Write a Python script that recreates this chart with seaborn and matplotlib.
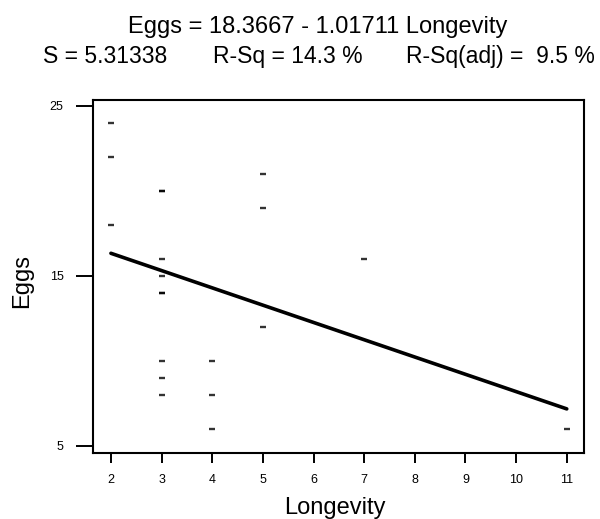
import matplotlib
matplotlib.use('Agg')
import matplotlib.pyplot as plt
import seaborn as sns
import pandas as pd

# Longevity / eggs data (two duplicates hidden under other marks)
longevity = [2, 2, 2, 3, 3, 3, 3, 3, 3, 3, 3, 3, 4, 4, 4, 5, 5, 5, 7, 11]
eggs = [24, 22, 18, 20, 20, 16, 15, 14, 14, 10, 9, 8, 10, 8, 6, 21, 19, 12, 16, 6]
x_ticks = [2, 3, 4, 5, 6, 7, 8, 9, 10, 11]
y_ticks = [5, 15, 25]

df = pd.DataFrame({'Longevity': longevity, 'Eggs': eggs})

sns.set_style('white')
plt.rcParams['font.family'] = ['Liberation Sans', 'DejaVu Sans']
plt.rcParams['text.color'] = 'black'
plt.rcParams['xtick.color'] = 'black'
plt.rcParams['ytick.color'] = 'black'

W, H = 600, 519
fig = plt.figure(figsize=(6, 5.19), dpi=100)
ax = fig.add_axes([0.1545, 0.1277, 0.8188, 0.6796])

sns.regplot(data=df, x='Longevity', y='Eggs', ax=ax, ci=None, marker='_',
            color='black',
            scatter_kws={'s': 16, 'linewidths': 1.7},
            line_kws={'lw': 2.6})

ax.set_xlim(1.64, 11.34)
ax.set_ylim(4.6, 25.35)
ax.set_xticks(x_ticks)
ax.set_yticks(y_ticks)
ax.tick_params(axis='both', direction='out', width=1.4, labelsize=9,
               color='black', labelcolor='black', bottom=True, left=True)
ax.tick_params(axis='x', length=7.5, pad=8)
ax.tick_params(axis='y', length=12, pad=9)
for sp in ax.spines.values():
    sp.set_linewidth(1.5)
    sp.set_color('black')

ax.set_xlabel('')
ax.set_ylabel('')
fig.text(335 / W, 1 - 514 / H, 'Longevity', ha='center', va='baseline', fontsize=17)
fig.text(22 / W, 1 - 281 / H, 'Eggs', ha='center', va='center', rotation=90, fontsize=17)

fig.text(318 / W, 1 - 33 / H, 'Eggs = 18.3667 - 1.01711 Longevity',
         ha='center', va='baseline', fontsize=17)
fs2 = 16.5
fig.text(43 / W, 1 - 63 / H, 'S = 5.31338', ha='left', va='baseline', fontsize=fs2)
fig.text(213 / W, 1 - 63 / H, 'R-Sq = 14.3 %', ha='left', va='baseline', fontsize=fs2)
fig.text(406 / W, 1 - 63 / H, 'R-Sq(adj) =  9.5 %', ha='left', va='baseline', fontsize=fs2)

fig.savefig('out.png', dpi=100)
